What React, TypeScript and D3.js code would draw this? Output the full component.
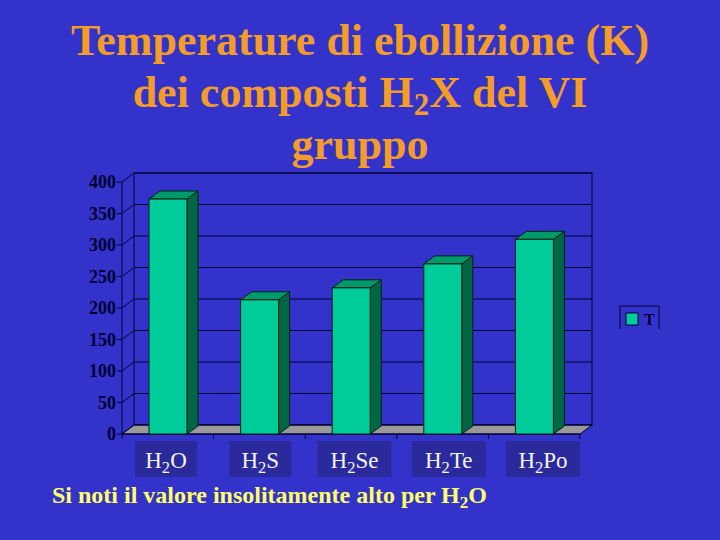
import React from "react";
import * as d3 from "d3";

const categories = ["H2O", "H2S", "H2Se", "H2Te", "H2Po"];
const values = [373, 213, 232, 270, 309];
const yTicks = [0, 50, 100, 150, 200, 250, 300, 350, 400];
const titleLines = ["Temperature di ebollizione (K)", "dei composti H|2|X del VI", "gruppo"];
const seriesName = "T";

const W = 720;
const H = 540;
const BG = "#3333cc";
const x0 = 122, x1 = 580;
const DX = 12, DY = -9;
const BDX = 11, BDY = -8;

function Formula({ text, x, y, size, fill, weight, anchor }: any) {
  const m = text.match(/^H2(.*)$/);
  return (
    <text x={x} y={y} fontSize={size} fill={fill} fontWeight={weight} textAnchor={anchor}
      fontFamily="'Liberation Serif', 'Times New Roman', serif">
      H<tspan fontSize={size * 0.72} dy={size * 0.22}>2</tspan>
      <tspan dy={-size * 0.22}>{m ? m[1] : ""}</tspan>
    </text>
  );
}

export default function App() {
  const y = d3.scaleLinear().domain([0, 400]).range([434, 182]);
  const x = d3.scaleBand().domain(categories).range([x0, x1]).paddingInner(0).paddingOuter(0);
  const lx = d3.scalePoint().domain(categories).range([166, 543]);
  const bw = 38;
  const serif = "'Liberation Serif', 'Times New Roman', serif";

  return (
    <svg width={W} height={H} style={{ position: "absolute", left: 0, top: 0, display: "block" }}>
      <rect x={0} y={0} width={W} height={H} fill={BG} />
      {titleLines.map((line, i) => {
        const parts = line.split("|");
        return (
          <text key={i} x={360} y={55 + i * 52} textAnchor="middle" fontSize={44} fontWeight="bold"
            fill="#f39c28" fontFamily={serif}>
            {parts.length === 1 ? line : (
              <>
                {parts[0]}
                <tspan fontSize={31} dy={8}>{parts[1]}</tspan>
                <tspan dy={-8}>{parts[2]}</tspan>
              </>
            )}
          </text>
        );
      })}
      <rect x={x0 + DX} y={y(400) + DY} width={x1 - x0} height={y(0) - y(400)} fill="none" stroke="#000033" strokeWidth={1} />
      <polygon points={`${x0},${y(0)} ${x1},${y(0)} ${x1 + DX},${y(0) + DY} ${x0 + DX},${y(0) + DY}`}
        fill="#999999" stroke="#000033" strokeWidth={1} />
      {yTicks.map((t) => (
        <g key={t}>
          <line x1={x0 + DX} x2={x1 + DX} y1={y(t) + DY} y2={y(t) + DY} stroke="#000033" strokeWidth={1} />
          <line x1={x0} x2={x0 + DX} y1={y(t)} y2={y(t) + DY} stroke="#000033" strokeWidth={1} />
          <line x1={x0 - 5} x2={x0} y1={y(t)} y2={y(t)} stroke="#000033" strokeWidth={1} />
          <text x={116} y={y(t)} dy="0.35em" textAnchor="end" fontSize={18} fontWeight="bold"
            fill="#000033" fontFamily={serif}>{t}</text>
        </g>
      ))}
      <line x1={x0} x2={x0} y1={y(0)} y2={y(400)} stroke="#000033" strokeWidth={1} />
      <line x1={x0} x2={x1} y1={y(0)} y2={y(0)} stroke="#000033" strokeWidth={1} />
      {categories.map((c) => (
        <line key={c} x1={x(c)!} x2={x(c)!} y1={y(0)} y2={y(0) + 5} stroke="#000033" strokeWidth={1} />
      ))}
      <line x1={x1} x2={x1} y1={y(0)} y2={y(0) + 5} stroke="#000033" strokeWidth={1} />
      {categories.map((c, i) => {
        const bx = x(c)! + 27;
        const top = y(values[i]);
        const bot = y(0);
        return (
          <g key={c} stroke="#002211" strokeWidth={1}>
            <polygon points={`${bx + bw},${bot} ${bx + bw},${top} ${bx + bw + BDX},${top + BDY} ${bx + bw + BDX},${bot + BDY}`}
              fill="#006644" />
            <polygon points={`${bx},${top} ${bx + bw},${top} ${bx + bw + BDX},${top + BDY} ${bx + BDX},${top + BDY}`}
              fill="#00996a" />
            <rect x={bx} y={top} width={bw} height={bot - top} fill="#00cc99" />
          </g>
        );
      })}
      {categories.map((c) => {
        const cx = lx(c)!;
        const boxW = c.length === 3 ? 62 : 74;
        return (
          <g key={c}>
            <rect x={cx - boxW / 2} y={441} width={boxW} height={36} fill="#2a2a9c" />
            <Formula text={c} x={cx} y={468} size={23} fill="#f4f4f4" weight="normal" anchor="middle" />
          </g>
        );
      })}
      <path d="M620,329 L620,306 L659,306 L659,329" fill="none" stroke="#000033" strokeWidth={1} />
      <rect x={626} y={313} width={12} height={12} fill="#00cc99" stroke="#000033" strokeWidth={1} />
      <text x={644} y={325} fontSize={16} fontWeight="bold" fill="#000033" fontFamily={serif}>{seriesName}</text>
      <text x={52} y={503} fontSize={24} fontWeight="bold" fill="#ffff66" fontFamily={serif}>
        Si noti il valore insolitamente alto per H<tspan fontSize={17} dy={5}>2</tspan><tspan dy={-5}>O</tspan>
      </text>
    </svg>
  );
}
